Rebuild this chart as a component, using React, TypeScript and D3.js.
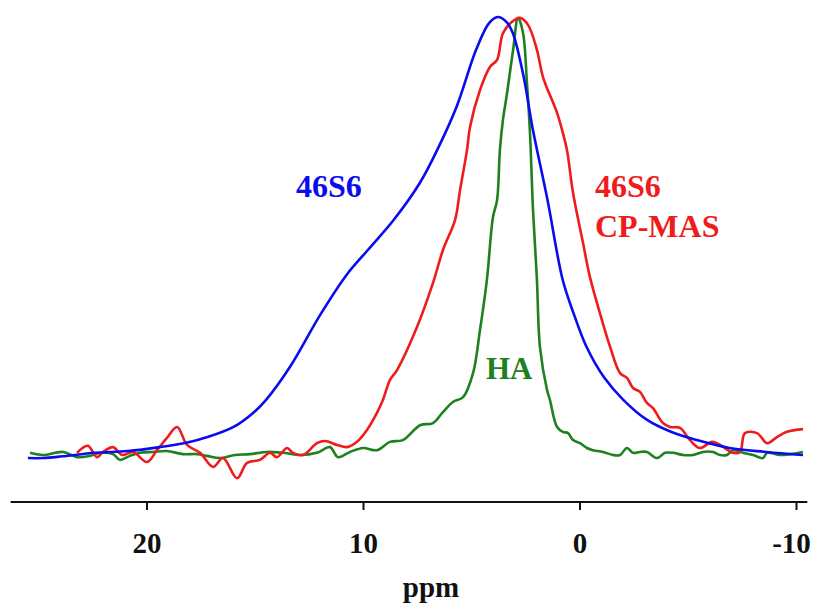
import React from "react";
import * as d3 from "d3";

// x: chemical shift (ppm), y: normalised intensity (peak = 100)
const bluePpm = [25.5, 24.8, 23.9, 22.4, 20.9, 19.4, 18.3, 17.2, 16.0, 15.1, 14.5, 13.4, 12.0, 10.8, 9.8, 8.6, 7.4, 6.6, 5.7, 4.8, 4.2, 3.8, 3.4, 3.1, 2.6, 2.2, 1.5, 0.8, 0.3, -0.3, -1.1, -2.0, -3.1, -4.2, -5.4, -6.9, -8.6, -10.3];
const blueInt = [-0.7, -0.7, -0.3, 0.5, 0.9, 1.8, 2.7, 4.1, 6.4, 9.6, 12.6, 20.1, 32.0, 41.0, 46.8, 53.7, 62.1, 69.6, 79.5, 92.5, 98.6, 100, 98.9, 96.3, 86.3, 74.9, 58.2, 40.0, 32.4, 24.7, 17.8, 12.6, 8.0, 5.3, 3.4, 1.6, 0.7, 0];

const redPpm = [23.23, 22.73, 22.31, 22.03, 21.57, 21.15, 20.65, 20.0, 19.54, 19.08, 18.61, 18.15, 17.55, 16.95, 16.49, 15.84, 15.38, 14.78, 14.32, 14.0, 13.53, 13.26, 12.79, 12.15, 11.78, 11.22, 10.76, 10.3, 9.84, 9.38, 9.1, 8.78, 8.45, 7.53, 6.79, 6.33, 5.77, 5.54, 5.22, 5.08, 4.62, 4.16, 3.83, 3.56, 3.14, 2.77, 2.4, 1.99, 1.71, 1.06, 0.79, 0.6, 0.32, -0.14, -0.46, -0.92, -1.39, -1.85, -2.17, -2.45, -2.77, -3.09, -3.37, -3.83, -4.16, -4.62, -5.08, -5.54, -6.1, -6.47, -7.07, -7.39, -7.62, -8.18, -8.64, -9.1, -9.56, -10.3];
const redInt = [0.5, 2.1, -0.5, 0.7, 1.8, 0, 0.7, -1.6, 1.1, 3.9, 6.4, 2.3, 0.5, -2.7, -0.7, -5.3, -1.8, -1.1, 0.5, -0.5, 1.6, 0.5, 0, 2.7, 3.2, 2.3, 1.8, 3.0, 5.7, 9.6, 12.6, 17.1, 19.4, 29.2, 39.3, 46.8, 53.7, 60.5, 69.6, 74.9, 83.3, 88.6, 90.2, 96.3, 98.9, 99.8, 98.2, 92.5, 86.3, 78.1, 73.5, 69.6, 59.8, 48.4, 40.6, 32.4, 24.7, 18.7, 17.6, 15.3, 14.4, 11.9, 10.7, 7.3, 6.4, 6.2, 3.4, 1.6, 3.0, 2.3, 0.5, 0.7, 5.0, 5.0, 2.7, 4.1, 5.3, 5.9];

const greenPpm = [25.4, 24.8, 23.88, 23.23, 22.63, 22.17, 21.57, 21.25, 20.79, 20.32, 19.72, 19.08, 18.34, 17.69, 17.23, 16.63, 15.94, 15.24, 14.46, 13.72, 12.93, 12.15, 11.55, 11.18, 10.62, 10.02, 9.38, 8.78, 8.18, 7.39, 6.79, 6.33, 5.87, 5.4, 4.94, 4.62, 4.3, 4.02, 3.83, 3.7, 3.56, 3.37, 3.09, 2.86, 2.63, 2.45, 2.31, 2.17, 1.99, 1.85, 1.52, 1.39, 1.06, 0.79, 0.55, 0.32, 0, -0.32, -0.6, -1.06, -1.52, -1.85, -2.17, -2.45, -2.77, -3.09, -3.56, -3.93, -4.3, -4.76, -5.22, -5.68, -6.14, -6.47, -6.79, -7.07, -7.53, -7.99, -8.45, -8.64, -9.24, -9.7, -10.3];
const greenInt = [0.5, 0, 0.7, -0.5, -0.2, 0.5, 0.2, -1.1, -0.2, 0.5, 0.7, 0.9, 0.2, 0.2, -0.2, -0.7, 0, 0.2, 0.7, 0.5, 0, 0.5, 1.8, -0.5, 0.7, 1.6, 1.1, 3.0, 3.4, 6.8, 7.3, 9.8, 12.1, 13.2, 18.7, 28.5, 40.0, 54.3, 58.2, 69.6, 76.5, 82.6, 92.5, 99.8, 96.3, 84.9, 73.5, 55.9, 40.0, 24.7, 14.8, 12.6, 6.4, 5.3, 5.0, 3.4, 2.7, 1.6, 1.1, 0.7, 0, 0, 1.6, 0.5, 0.7, 0.7, -0.7, 0.5, 0.5, 0, 0, 0.7, 0.7, 0, 0, 1.1, 0.5, 0, -0.7, 0.5, 0, 0.2, 0.7];

const tickValues = [20, 10, 0, -10];
const tickLabels = ["20", "10", "0", "-10"];
const axisTitle = "ppm";

const BLUE = "#0b0bf0";
const RED = "#ee1c1c";
const GREEN = "#1f8020";
const FONT = "'Liberation Serif', 'Times New Roman', serif";

export default function App() {
  const x = d3.scaleLinear().domain([20, -10]).range([147, 796.5]);
  const y = d3.scaleLinear().domain([0, 100]).range([455, 17]);
  const axisY = 502;
  const xMin = 26.3;
  const xMax = -10.5;

  const line = d3
    .line<[number, number]>()
    .x((d) => x(d[0]))
    .y((d) => y(d[1]))
    .curve(d3.curveCatmullRom.alpha(0.5));

  const series = [
    { p: greenPpm, v: greenInt, c: GREEN },
    { p: redPpm, v: redInt, c: RED },
    { p: bluePpm, v: blueInt, c: BLUE },
  ];

  return (
    <svg
      width={815}
      height={605}
      style={{ position: "absolute", left: 0, top: 0, background: "#fff" }}
      fontFamily={FONT}
    >
      <rect x={0} y={0} width={815} height={605} fill="#fff" />
      {series.map((s, i) => (
        <path
          key={i}
          d={line(s.p.map((p, j) => [p, s.v[j]] as [number, number])) || ""}
          fill="none"
          stroke={s.c}
          strokeWidth={2.6}
          strokeLinejoin="round"
        />
      ))}
      <line x1={x(xMin)} x2={x(xMax)} y1={axisY} y2={axisY} stroke="#111" strokeWidth={2.2} />
      {tickValues.map((t, i) => (
        <g key={t}>
          <line x1={x(t)} x2={x(t)} y1={axisY} y2={axisY + 8} stroke="#111" strokeWidth={2} />
          <text
            x={x(t) + (i === tickValues.length - 1 ? -5 : 0)}
            y={553}
            textAnchor="middle"
            fontSize={29}
            fontWeight="bold"
            fill="#111"
          >
            {tickLabels[i]}
          </text>
        </g>
      ))}
      <text x={431} y={597} textAnchor="middle" fontSize={29} fontWeight="bold" fill="#111">
        {axisTitle}
      </text>
      <text x={296} y={197} fontSize={32} fontWeight="bold" fill={BLUE}>
        46S6
      </text>
      <text x={595} y={197} fontSize={32} fontWeight="bold" fill={RED}>
        46S6
      </text>
      <text x={595} y={237} fontSize={32} fontWeight="bold" fill={RED}>
        CP-MAS
      </text>
      <text x={486} y={379} fontSize={31} fontWeight="bold" fill={GREEN}>
        HA
      </text>
    </svg>
  );
}
